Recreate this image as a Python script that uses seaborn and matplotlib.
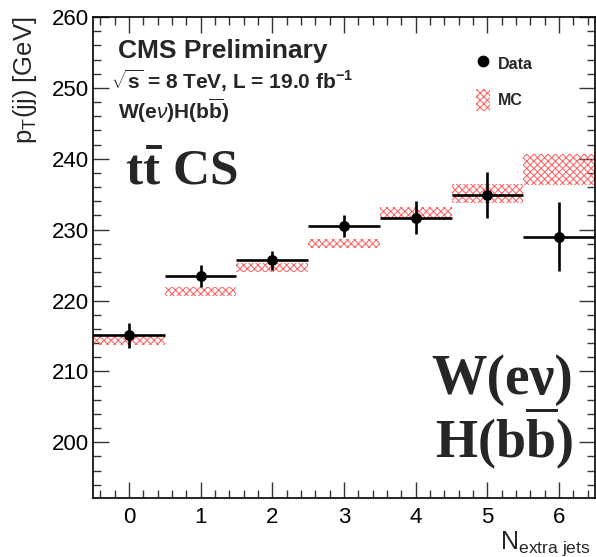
import numpy as np
import pandas as pd
import matplotlib
matplotlib.use("Agg")
import matplotlib.pyplot as plt
import seaborn as sns
from matplotlib.lines import Line2D
from matplotlib.patches import Patch
from matplotlib.ticker import MultipleLocator

# ---- data ----
njets = [0, 1, 2, 3, 4, 5, 6]
data_vals = [215.1, 223.45, 225.7, 230.5, 231.7, 234.9, 229.0]
data_errs = [1.8, 1.55, 1.35, 1.5, 2.35, 3.3, 4.9]
mc_vals = [214.35, 221.3, 224.65, 228.0, 232.4, 235.05, 238.5]
mc_errs = [0.65, 0.65, 0.65, 0.65, 0.8, 1.35, 2.2]
xticks = [0, 1, 2, 3, 4, 5, 6]
yticks = [200, 210, 220, 230, 240, 250, 260]

DPI = 86
F = 100.0 / DPI   # sizes below are chosen as if at 100 dpi

sns.set_theme(style="ticks")
plt.rcParams["font.family"] = ["Liberation Sans", "DejaVu Sans"]
plt.rcParams["mathtext.fontset"] = "custom"
plt.rcParams["mathtext.rm"] = "Liberation Sans"
plt.rcParams["mathtext.it"] = "Liberation Sans:italic"
plt.rcParams["mathtext.bf"] = "Liberation Sans:bold"
plt.rcParams["mathtext.sf"] = "Liberation Serif:bold"
plt.rcParams["hatch.linewidth"] = 0.75 * F

df = pd.DataFrame({"n": njets, "data": data_vals, "derr": data_errs,
                   "mc": mc_vals, "mcerr": mc_errs})

fig = plt.figure(figsize=(596 / DPI, 557 / DPI), dpi=DPI)
ax = fig.add_axes([93 / 596, 1 - 498.3 / 557, 502 / 596, (498.3 - 17) / 557])

mc_color = "#ff6262"
mc_hatch = "xxxx"
ax.bar(df["n"], 2 * df["mcerr"], bottom=df["mc"] - df["mcerr"], width=1.0,
       facecolor="none", edgecolor=mc_color, hatch=mc_hatch, linewidth=0, zorder=1)

ax.errorbar(df["n"], df["data"], xerr=0.5, yerr=df["derr"], fmt="none",
            ecolor="black", elinewidth=1.9 * F, capsize=0, zorder=3)
sns.scatterplot(data=df, x="n", y="data", ax=ax, color="black", s=(7.8 * F) ** 2,
                edgecolor="black", linewidth=0, zorder=4, legend=False)

ax.set_xlim(-0.5, 6.5)
ax.set_ylim(192.1, 260)
ax.set_xticks(xticks)
ax.set_yticks(yticks)
ax.xaxis.set_minor_locator(MultipleLocator(0.2))
ax.yaxis.set_minor_locator(MultipleLocator(2))
ax.tick_params(which="both", direction="in", top=True, right=True, width=1.0 * F, color="#333333")
ax.tick_params(which="major", length=11.5 * F, labelsize=16 * F, labelcolor="black")
ax.tick_params(which="minor", length=5.5 * F)
ax.tick_params(axis="y", which="major", pad=3 * F)
ax.tick_params(axis="x", which="major", pad=6 * F)
for s in ax.spines.values():
    s.set_linewidth(1.2 * F)
    s.set_color("black")
ax.set_xlabel("")
ax.set_ylabel("")

# axis titles
fig.text(500 / 596, 1 - 549 / 557, r"N$_{\rm extra\ jets}$", fontsize=18 * F,
         ha="left", va="baseline")
fig.text(25 / 596, 1 - 17 / 557, r"p$_{\rm T}$(jj) [GeV]", fontsize=18.5 * F,
         rotation=90, ha="center", va="top")

# texts
ax.text(-0.15, 254.2, "CMS Preliminary", fontsize=19 * F, fontweight="bold",
        ha="left", va="baseline")
ax.text(-0.245, 249.8, r"$\mathbf{\sqrt{s}}$ = 8 TeV, L = 19.0 fb$^{\mathbf{-1}}$",
        fontsize=15 * F, fontweight="bold", ha="left", va="baseline")
ax.text(-0.15, 245.6, r"W(e$\nu$)H(b$\mathbf{\overline{b}}$)", fontsize=15 * F,
        fontweight="bold", ha="left", va="baseline")
ax.text(-0.05, 236.3, r"t$\mathsf{\bar{t}}$ CS", fontsize=37 * F,
        family="Liberation Serif", fontweight="bold", ha="left", va="baseline")
ax.text(6.195, 206.9, "W(eν)", fontsize=40 * F, family="Liberation Serif",
        fontweight="bold", ha="right", va="baseline")
ax.text(6.195, 197.9, r"H(b$\mathsf{\overline{b}}$)", fontsize=39 * F, family="Liberation Serif",
        fontweight="bold", ha="right", va="baseline")

handles = [Line2D([], [], marker="o", color="black", linestyle="none", markersize=7.6 * F),
           Patch(facecolor="none", edgecolor=mc_color, hatch=mc_hatch, linewidth=0)]
leg = ax.legend(handles, ["Data", "MC"], loc="upper left",
                bbox_to_anchor=(0.735, 0.955), frameon=False,
                prop={"weight": "bold", "size": 11.5 * F}, handlelength=0.85,
                handleheight=1.7, labelspacing=0.9, handletextpad=0.5)

fig.savefig("out.png", dpi=DPI)
